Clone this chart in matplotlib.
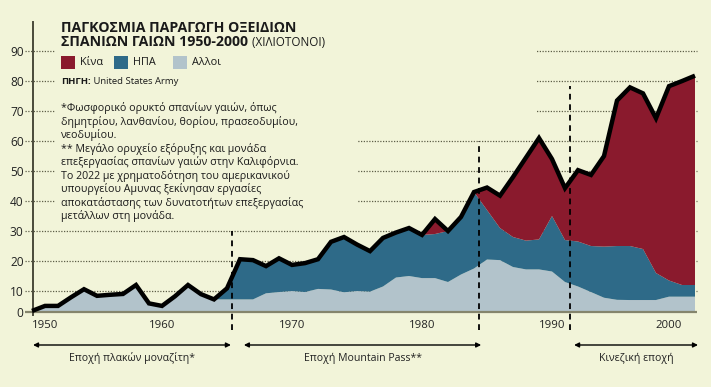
import numpy as np
import matplotlib
matplotlib.use('Agg')
import matplotlib.pyplot as plt
from matplotlib.patches import Rectangle
from matplotlib.transforms import blended_transform_factory

plt.rcParams['font.family'] = ['Open Sans', 'DejaVu Sans']

# ---------------- data (thousand tonnes) ----------------
years = list(range(1950, 2002))
others = [0.5, 2.9, 2.9, 7.0, 10.6, 7.7, 8.2, 8.6, 12.0, 4.1,
          2.9, 7.5, 12.0, 8.5, 6.0, 6.0, 6.0, 6.0, 8.9, 9.5,
          10.0, 9.5, 10.7, 10.5, 9.4, 10.0, 9.7, 11.5, 14.5, 15.0,
          14.3, 14.3, 13.0, 15.5, 17.5, 20.5, 20.3, 18.0, 17.2, 17.2,
          16.5, 13.0, 11.5, 9.5, 6.8, 5.8, 5.7, 5.7, 5.7, 7.3,
          7.3, 7.3]
usa = [0, 0, 0, 0, 0, 0, 0, 0, 0, 0,
       0, 0, 0, 0, 0, 4.9, 14.6, 14.3, 9.4, 11.4,
       8.7, 9.8, 9.9, 15.9, 18.6, 15.5, 13.6, 16.2, 15.0, 16.0,
       14.4, 14.7, 17.0, 19.2, 25.5, 16.5, 10.7, 10.0, 9.6, 10.0,
       18.5, 14.0, 15.0, 15.5, 18.0, 19.2, 19.3, 18.3, 10.3, 6.2,
       4.7, 4.7]
china = [0, 0, 0, 0, 0, 0, 0, 0, 0, 0,
         0, 0, 0, 0, 0, 0, 0, 0, 0, 0,
         0, 0, 0, 0, 0, 0, 0, 0, 0, 0,
         0, 5.0, 0, 0, 0, 7.5, 10.8, 20.0, 27.7, 33.8,
         19.0, 17.3, 23.8, 23.7, 30.2, 48.5, 52.9, 51.9, 51.6, 64.8,
         68.0, 69.8]
total = [o + u + c for o, u, c in zip(others, usa, china)]

y_ticks = [0, 10, 20, 30, 40, 50, 60, 70, 80, 90]
x_ticks = [1950, 1960, 1970, 1980, 1990, 2000]
series_labels = ['Κίνα', 'ΗΠΑ', 'Αλλοι']
era_labels = ['Εποχή πλακών μοναζίτη*', 'Εποχή Mountain Pass**', 'Κινεζική εποχή']
era_marks = [1965.4, 1984.4, 1991.4]

title1 = 'ΠΑΓΚΟΣΜΙΑ ΠΑΡΑΓΩΓΗ ΟΞΕΙΔΙΩΝ'
title2 = 'ΣΠΑΝΙΩΝ ΓΑΙΩΝ 1950-2000'
title_unit = ' (ΧΙΛΙΟΤΟΝΟΙ)'
source_bold = 'ΠΗΓΗ:'
source_text = ' United States Army'
notes = ('*Φωσφορικό ορυκτό σπανίων γαιών, όπως\n'
         'δημητρίου, λανθανίου, θορίου, πρασεοδυμίου,\n'
         'νεοδυμίου.\n'
         '** Μεγάλο ορυχείο εξόρυξης και μονάδα\n'
         'επεξεργασίας σπανίων γαιών στην Καλιφόρνια.\n'
         'Το 2022 με χρηματοδότηση του αμερικανικού\n'
         'υπουργείου Αμυνας ξεκίνησαν εργασίες\n'
         'αποκατάστασης των δυνατοτήτων επεξεργασίας\n'
         'μετάλλων στη μονάδα.')

# ---------------- style ----------------
BG = '#F2F4D9'
RED = '#8A1A2D'
BLUE = '#2E6A88'
LIGHT = '#B2C3CB'
GRID = '#5E5E48'
TXT = '#1a1a1a'
W, H = 711, 387

fig = plt.figure(figsize=(W / 100, H / 100), dpi=100, facecolor=BG)


def fx(px):
    return px / W


def fy(py):
    return 1 - py / H


ax = fig.add_axes([fx(32), fy(312), (697.6 - 32) / W, 290 / H])
ax.set_facecolor(BG)


def fwd(v):
    v = np.asarray(v, dtype=float)
    return np.where(v < 10, v * 0.7, v - 3)


def inv(u):
    u = np.asarray(u, dtype=float)
    return np.where(u < 7, u / 0.7, u + 3)


ax.set_yscale('function', functions=(fwd, inv))
ax.set_xlim(1950, 2001.2)
ax.set_ylim(0, 99.7)
for s in ax.spines.values():
    s.set_visible(False)

ax.set_yticks(y_ticks)
ax.set_yticklabels([str(t) for t in y_ticks])
ax.tick_params(axis='y', length=0, pad=6, labelsize=8.6, labelcolor='#222222')
ax.set_xticks(x_ticks)
ax.set_xticklabels([str(t) for t in x_ticks])
ax.tick_params(axis='x', length=0, pad=6, labelsize=8.2, labelcolor='#222222')
xl = ax.get_xticklabels()
xl[0].set_ha('left')
xl[-1].set_ha('right')

# grid lines (dotted)
ax.hlines(y_ticks[1:], 1949.46, 2001.15, colors=GRID, linestyles=(0, (1, 1.2)),
          lw=0.9, clip_on=False, zorder=0.5)

# background masks behind the text blocks
ax.add_artist(Rectangle((fx(55), fy(125)), fx(536) - fx(55), fy(40) - fy(125),
                        transform=fig.transFigure, facecolor=BG, edgecolor='none',
                        zorder=1, clip_on=False))
ax.add_artist(Rectangle((fx(55), fy(218)), fx(358) - fx(55), fy(125) - fy(218),
                        transform=fig.transFigure, facecolor=BG, edgecolor='none',
                        zorder=1, clip_on=False))

# stacked areas
ax.stackplot(years, others, usa, china, colors=[LIGHT, BLUE, RED], lw=0, zorder=2)
# total outline
ax.plot(years, total, color='black', lw=3.2, solid_joinstyle='miter',
        solid_capstyle='butt', zorder=3, clip_on=False)

# axes lines
ax.hlines(0, 1949.46, 2001.15, color='#85856c', lw=1.6, clip_on=False, zorder=2.5)
ax.plot([1950.08, 1950.08], [-1.4, 99.7], color='#4a4a3a', lw=1.4, clip_on=False,
        zorder=2.6)

# era separators
era_tops = [30, 60, 78.3]
for xm, top in zip(era_marks, era_tops):
    ax.plot([xm, xm], [-8.5, top], color='black', lw=1.3, ls=(0, (3.2, 2.6)),
            clip_on=False, zorder=4)

# era arrows & labels
bt = blended_transform_factory(ax.transData, fig.transFigure)
era_spans = [(1950.08, 1965.3), (1966.3, 1984.55), (1991.7, 2001.23)]
for (a, b), lab in zip(era_spans, era_labels):
    ax.annotate('', xy=(b, fy(345)), xytext=(a, fy(345)),
                xycoords=('data', 'figure fraction'),
                textcoords=('data', 'figure fraction'),
                arrowprops=dict(arrowstyle='<|-|>', color='black', lw=1.0,
                                mutation_scale=7, shrinkA=0, shrinkB=0),
                annotation_clip=False)
    ax.text((a + b) / 2, fy(358), lab, transform=bt, ha='center', va='center',
            fontsize=7.6, color='#222222')

# titles
fig.text(fx(61), fy(27.5), title1, fontsize=10.2, fontweight='bold',
         ha='left', va='center', color=TXT)
t2 = fig.text(fx(61), fy(42.5), title2, fontsize=10.2, fontweight='bold',
              ha='left', va='center', color=TXT)
renderer = fig.canvas.get_renderer()
bb = t2.get_window_extent(renderer)
fig.text(bb.x1 / W + 1 / W, fy(42.5), title_unit, fontsize=8.4, ha='left',
         va='center', color=TXT)

# legend
leg_x = [61, 114, 173]
for lx, col, lab in zip(leg_x, [RED, BLUE, LIGHT], series_labels):
    fig.add_artist(Rectangle((fx(lx), fy(69)), 14 / W, 13 / H,
                             transform=fig.transFigure, facecolor=col,
                             edgecolor='none'))
    fig.text(fx(lx + 19), fy(62.5), lab, fontsize=7.8, ha='left', va='center',
             color=TXT)

# source
s1 = fig.text(fx(61), fy(82), source_bold, fontsize=6.8, fontweight='bold',
              ha='left', va='center', color=TXT)
bb = s1.get_window_extent(renderer)
fig.text(bb.x1 / W, fy(82), source_text, fontsize=6.8, ha='left', va='center',
         color=TXT)

# notes
fig.text(fx(61), fy(102.5), notes, fontsize=7.7, ha='left', va='top',
         linespacing=1.16, color=TXT)

fig.savefig('out.png', dpi=100, facecolor=BG)
